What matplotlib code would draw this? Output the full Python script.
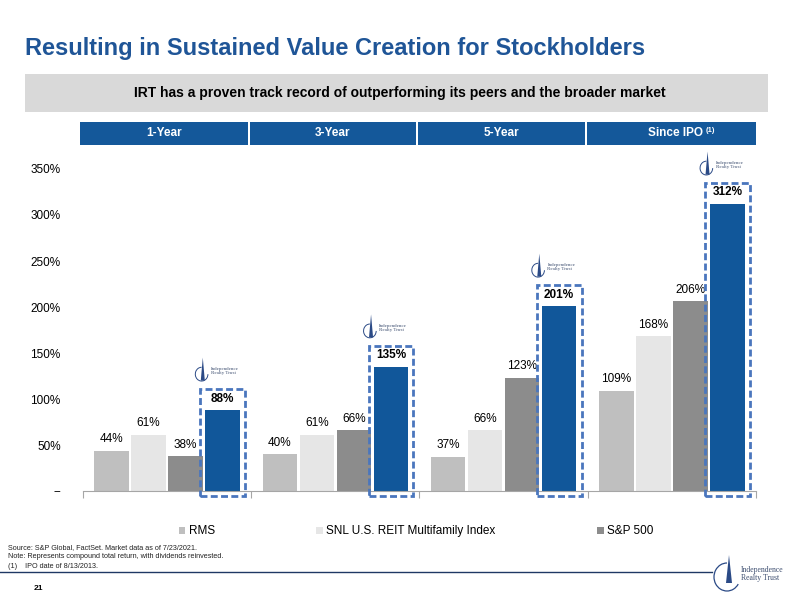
import numpy as np
import matplotlib
matplotlib.use('Agg')
import matplotlib.pyplot as plt
from matplotlib.patches import Rectangle, Arc, Polygon

plt.rcParams['font.family'] = ['Liberation Sans', 'DejaVu Sans']

periods = ['1-Year', '3-Year', '5-Year', 'Since IPO']
rms = [44, 40, 37, 109]
snl = [61, 61, 66, 168]
spx = [38, 66, 123, 206]
irt = [88, 135, 201, 312]
series_names = ['RMS', 'SNL U.S. REIT Multifamily Index', 'S&P 500']
yticks = [0, 50, 100, 150, 200, 250, 300, 350]
notes = ['Source: S&P Global, FactSet. Market data as of 7/23/2021.',
         'Note: Represents compound total return, with dividends reinvested.',
         '(1)    IPO date of 8/13/2013.']

W, H = 793, 596
navy = '#1F5597'
bar_blue = '#11579A'
dash_blue = '#4A76BD'
logo_c = '#2B4A86'

def fx(px): return px / W
def fy(py): return 1 - py / H

fig = plt.figure(figsize=(W/100, H/100), dpi=100)

# title + banners
fig.text(fx(25), fy(48), 'Resulting in Sustained Value Creation for Stockholders',
         fontsize=17, fontweight='bold', color=navy, va='center', ha='left')
fig.patches.append(Rectangle((fx(25), fy(112)), fx(743), 38/H, transform=fig.transFigure,
                             facecolor='#D9D9D9', edgecolor='none'))
fig.text(fx(400), fy(93), 'IRT has a proven track record of outperforming its peers and the broader market',
         fontsize=10, fontweight='bold', color='black', ha='center', va='center')
hdr = [(80, 248), (250, 416), (418, 585), (587, 756)]
for (x0, x1), p in zip(hdr, periods):
    fig.patches.append(Rectangle((fx(x0), fy(145)), fx(x1 - x0), 23/H, transform=fig.transFigure,
                                 facecolor='#14589A', edgecolor='none'))
    if p == 'Since IPO':
        fig.text(fx(703), fy(133.5), p, fontsize=8.5, fontweight='bold', color='white',
                 ha='right', va='center')
        fig.text(fx(706), fy(131), '(1)', fontsize=5.5, fontweight='bold', color='white',
                 ha='left', va='center')
    else:
        fig.text(fx((x0 + x1)/2), fy(133.5), p, fontsize=8.5, fontweight='bold', color='white',
                 ha='center', va='center')

ax = fig.add_axes([fx(83), 105/H, fx(756 - 83), 322/H])
x = np.arange(len(periods))
w = 0.205
offs = [-0.33, -0.11, 0.11, 0.33]
cols = ['#BFBFBF', '#E6E6E6', '#8C8C8C']
for vals, off, c, nm in zip([rms, snl, spx], offs[:3], cols, series_names):
    b = ax.bar(x + off, vals, w, color=c, label=nm)
    for xi, v in zip(x + off, vals):
        ax.text(xi, v + 6, f'{v}%', ha='center', va='bottom', fontsize=8.5)
ax.bar(x + offs[3], irt, w, color=bar_blue)

def logo(ax, cx, base):
    # small company mark above the dashed box
    ax.add_patch(Arc((cx - 0.125, base + 16), 0.075, 15, theta1=90, theta2=330,
                     color=logo_c, lw=0.7, clip_on=False))
    tx = cx - 0.118
    ax.add_patch(Polygon([[tx - 0.012, base + 9], [tx + 0.012, base + 9], [tx, base + 34]],
                         closed=True, color=logo_c, clip_on=False, lw=0))
    ax.text(cx - 0.07, base + 19, 'Independence\nRealty Trust', fontsize=3.6, family='Liberation Serif',
            color='#3D4E70', ha='left', va='center', linespacing=1.0, clip_on=False)

for xi, v in zip(x + offs[3], irt):
    ax.text(xi, v + 6, f'{v}%', ha='center', va='bottom', fontsize=8.5, fontweight='bold')
    ax.add_patch(Rectangle((xi - 0.133, -5), 0.266, v + 28, fill=False, edgecolor=dash_blue,
                           lw=2.0, linestyle=(0, (2.5, 1.2)), clip_on=False, zorder=3))
    logo(ax, xi, v + 23)

ax.set_xlim(-0.5, 3.5)
ax.set_ylim(0, 350)
ax.set_yticks(yticks)
ax.set_yticklabels(['--' if t == 0 else f'{t}%' for t in yticks], fontsize=8.5)
ax.tick_params(axis='y', length=0, pad=16)
ax.set_xticks([-0.5, 0.5, 1.5, 2.5, 3.5])
ax.set_xticklabels([])
ax.tick_params(axis='x', direction='out', length=5, color='#A6A6A6')
for s in ['top', 'right', 'left']:
    ax.spines[s].set_visible(False)
ax.spines['bottom'].set_color('#A6A6A6')

leg = ax.legend(loc='center', bbox_to_anchor=(0.495, -0.125), ncol=3, frameon=False, fontsize=8.5,
                handlelength=0.55, handleheight=0.55, handletextpad=0.3, columnspacing=8.6)

for i, n in enumerate(notes):
    fig.text(fx(8), fy(548 + 9*i), n, fontsize=5.2, ha='left', va='center', color='#222222')
fig.lines.append(plt.Line2D([0, fx(712)], [fy(572), fy(572)], transform=fig.transFigure,
                            color='#1F3864', lw=1.0))
fig.text(fx(38), fy(588), '21', fontsize=6, fontweight='bold', ha='center', va='center')

# bottom-right logo
fig.patches.append(Arc((fx(727), fy(577)), 26/W, 28/H, theta1=90, theta2=320,
                       transform=fig.transFigure, color=logo_c, lw=0.9))
fig.patches.append(Polygon([[fx(726), fy(583)], [fx(732), fy(583)], [fx(729), fy(555)]],
                           closed=True, transform=fig.transFigure, color=logo_c, lw=0))
fig.text(fx(741), fy(574), 'Independence\nRealty Trust', fontsize=5.6, family='Liberation Serif',
         color='#3D4E70', ha='left', va='center', linespacing=1.1)

fig.savefig('out.png', dpi=100)
